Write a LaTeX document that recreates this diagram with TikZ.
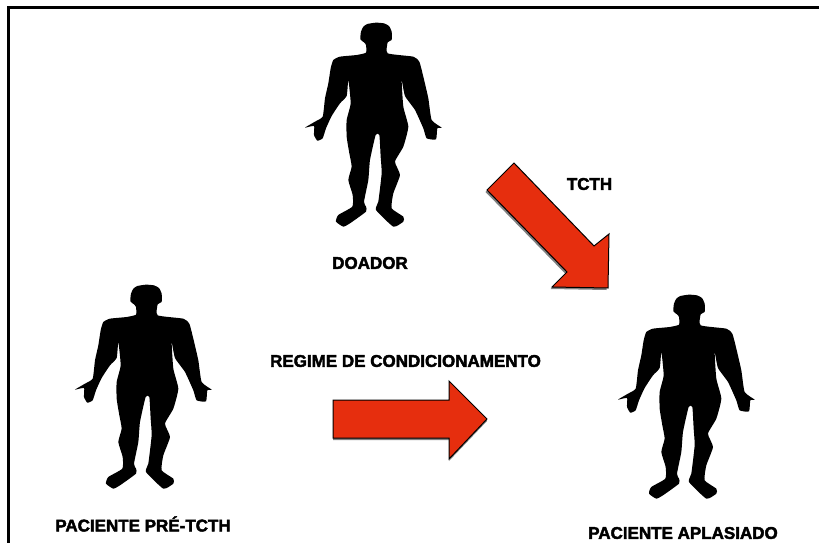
\documentclass[tikz,border=0pt]{standalone}
\usepackage{fontspec}
\setmainfont{Liberation Sans}
\newfontfamily\labelfont[FakeBold=2.5]{Liberation Sans Bold}
\definecolor{arrowred}{RGB}{230,46,14}
\tikzset{
  x=1pt,y=-1pt,
  label text/.style={font=\labelfont\fontsize{17}{20}\selectfont,inner sep=0pt,text=black},
  block arrow/.style={fill=arrowred,draw=black,line width=1pt,line join=miter},
  block shadow/.style={fill=black!50,draw=none},
  frame line/.style={draw=black,line width=3pt},
  body/.pic={
    \fill[black,x=0.3333pt,y=-0.3333pt] plot[smooth cycle,tension=0.3] coordinates {
      (258,38)(232,42)(220,50)(213,65)(211,88)(222,97)(228,105)(228,128)(200,135)(150,140)(130,150)
      (122,175)(115,220)(105,265)(98,320)(75,335)(45,353)(72,348)(72,375)(82,392)(98,385)(108,355)
      (125,318)(150,280)(170,258)(175,210)(182,280)(170,330)(170,380)(178,430)(185,470)(175,510)
      (188,555)(187,590)(145,615)(138,635)(160,650)(180,640)(228,605)(228,590)(222,575)(235,510)
      (240,450)(257,375)(268,375)(272,440)(275,490)(265,575)(258,600)(310,650)(340,635)(340,620)
      (305,595)(310,550)(330,495)(315,455)(340,410)(355,350)(340,290)(335,210)(345,258)(375,300)
      (400,355)(410,385)(438,388)(442,355)(455,353)(425,330)(415,265)(400,200)(388,155)(370,140)
      (293,130)(293,97)(305,90)(305,65)(297,48)(282,40)};
  }
}
\begin{document}
\begin{tikzpicture}
\useasboundingbox (0,0) rectangle (819,543);
\draw[frame line] (8.5,543) -- (8.5,7.5) -- (819,7.5);
\pic (donor) at (290,10) {body};
\pic (patient) at (60,272) {body};
\pic (aplastic) at (603,282) {body};
% diagonal arrow
\fill[block shadow,shift={(-1.5,2)}] (513,163) -- (487,190) -- (567,272) -- (552,287) -- (608,288) -- (608,234) -- (594,246) -- cycle;
\draw[block arrow] (514,163) -- (487,190) -- (567,272) -- (552,287) -- (608,288) -- (609,234) -- (594,246) -- cycle;
% horizontal arrow
\fill[block shadow,shift={(0,2)}] (333,400) -- (449,400) -- (449,381) -- (487,419) -- (449,459) -- (449,438) -- (333,438) -- cycle;
\draw[block arrow] (333,400) -- (449,400) -- (449,381) -- (487,419) -- (449,459) -- (449,438) -- (333,438) -- cycle;
\node[label text] (doador) at (370,263) {DOADOR};
\node[label text] (tcth) at (589.5,184) {TCTH};
\node[label text] (regime) at (405.5,361) {REGIME DE CONDICIONAMENTO};
\node[label text] (pretcth) at (143,524) {PACIENTE PRÉ-TCTH};
\node[label text] (aplasiado) at (683,533) {PACIENTE APLASIADO};
\end{tikzpicture}
\end{document}
